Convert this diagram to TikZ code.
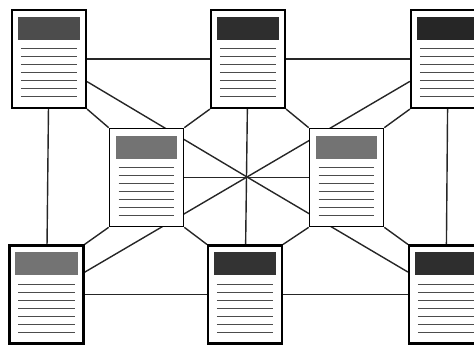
\documentclass[tikz,border=0pt]{standalone}
\usepackage{tikz}
\usetikzlibrary{backgrounds}
\tikzset{page/.style={draw=black,line width=2.2pt,fill=white,minimum width=74pt,minimum height=98pt,inner sep=0pt},
  midpage/.style={page,line width=1.7pt},
  link/.style={line width=1.4pt,black!85},
  textline/.style={line width=1pt,black!70}}

\begin{document}
\begin{tikzpicture}[x=1pt,y=-1pt]

\clip (0,0) rectangle (474,345);

\node[page] (tl) at (49,59) {};
\node[page] (tm) at (248,59) {};
\node[page] (tr) at (448,59) {};
\node[midpage] (ml) at (146.5,177.5) {};
\node[midpage] (mr) at (346.5,177.5) {};
\node[page] (bl) at (46.5,294.5) {};
\node[page] (bm) at (245,294.5) {};
\node[page] (br) at (446,294.5) {};

\coordinate (hub) at (247,177);

% headers and text lines
\foreach \n/\c in {tl/70,tm/82,tr/85,ml/55,mr/55,bl/55,bm/80,br/82}{
  \fill[black!\c] ([xshift=7pt,yshift=-8pt]\n.north west) rectangle ([xshift=-7pt,yshift=-31pt]\n.north east);
  \foreach \k in {0,...,6}
    \draw[textline] ([xshift=10pt,yshift={-(40+8*\k)*1pt}]\n.north west) -- ([xshift=-10pt,yshift={-(40+8*\k)*1pt}]\n.north east);
}

\begin{scope}[on background layer]
% outer ring
\draw[link] (tl) -- (tm) -- (tr);
\draw[link] (bl) -- (bm) -- (br);
\draw[link] (tl) -- (bl);
\draw[link] (tr) -- (br);
% spokes
\draw[link] (tm) -- (bm);
\draw[link] (ml) -- (mr);
\draw[link] (tl) -- (hub);
\draw[link] (tr) -- (hub);
\draw[link] (bl) -- (hub);
\draw[link] (br) -- (hub);
% corners
\draw[link] (tl.south east) -- (ml.north west);
\draw[link] (tm.south west) -- (ml.north east);
\draw[link] (tm.south east) -- (mr.north west);
\draw[link] (tr.south west) -- (mr.north east);
\draw[link] (ml.south west) -- (bl.north east);
\draw[link] (ml.south east) -- (bm.north west);
\draw[link] (mr.south west) -- (bm.north east);
\draw[link] (mr.south east) -- (br.north west);
\end{scope}

\end{tikzpicture}
\end{document}
